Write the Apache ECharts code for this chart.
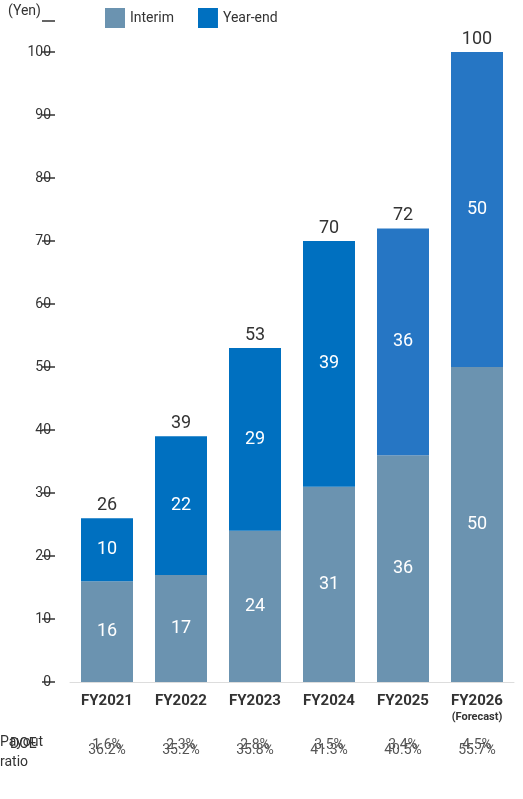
<!DOCTYPE html><html><head><meta charset="utf-8"><script src="https://cdn.jsdelivr.net/npm/echarts@6/dist/echarts.min.js"></script>
<style>html,body{margin:0;padding:0;background:#fff}#c{width:523px;height:799px}</style></head><body><div id="c"></div><script>
const categories=['FY2021','FY2022','FY2023','FY2024','FY2025','FY2026'];
const interim=[16,17,24,31,36,50];
const yearEnd=[10,22,29,39,36,50];
const totals=[26,39,53,70,72,100];
const doe=['1.6%','2.3%','2.8%','3.5%','3.4%','4.5%'];
const payout=['36.2%','35.2%','35.8%','41.3%','40.5%','55.7%'];
const F='Roboto, "Noto Sans", sans-serif';
const chart=echarts.init(document.getElementById('c'));
const yeColors=['#0070c0','#0070c0','#0070c0','#0070c0','#2676c4','#2676c4'];
chart.setOption({
 animation:false,
 textStyle:{fontFamily:F},
 grid:{left:70,right:9,top:20.5,bottom:117},
 legend:{top:3,left:100,itemWidth:20,itemHeight:20,itemGap:24,icon:'rect',textStyle:{fontSize:14,color:'#333',fontFamily:F},data:['Interim','Year-end']},
 xAxis:{type:'category',data:categories,axisLine:{show:true,lineStyle:{color:'#ddd'}},axisTick:{show:false},
  axisLabel:{margin:10,interval:0,formatter:v=>v==='FY2026'?'{b|'+v+'}\n{s|(Forecast)}':'{b|'+v+'}',
   rich:{b:{fontSize:15,fontWeight:'bold',color:'#333',fontFamily:F,lineHeight:18},s:{fontSize:11,fontWeight:'bold',color:'#333',fontFamily:F,lineHeight:14}}}},
 yAxis:{type:'value',min:0,max:105,interval:10,offset:15,splitLine:{show:false},axisLine:{show:false},
  axisTick:{show:true,length:13,lineStyle:{color:'#333',width:1.5}},
  axisLabel:{margin:4,fontSize:14,color:'#333',formatter:v=>v>100?'':v}},
 series:[
  {name:'Interim',type:'bar',stack:'a',barWidth:52,data:interim,itemStyle:{color:'#6b93b0'},
   label:{show:true,position:'inside',color:'#fff',fontSize:18,fontFamily:F}},
  {name:'Year-end',type:'bar',stack:'a',barWidth:52,data:yearEnd.map((v,i)=>({value:v,itemStyle:{color:yeColors[i]}})),itemStyle:{color:'#0070c0'},
   label:{show:true,position:'inside',color:'#fff',fontSize:18,fontFamily:F}},
  {name:'total',type:'bar',stack:'a',barWidth:52,data:totals.map(()=>0),itemStyle:{color:'transparent'},
   label:{show:true,position:'top',distance:4,color:'#333',fontSize:18,fontFamily:F,formatter:p=>totals[p.dataIndex]}}
 ]
});
const g=[{type:'text',left:8,top:4,style:{text:'(Yen)',fontSize:14,fill:'#333',fontFamily:F}},
 {type:'text',left:10,top:737,style:{text:'DOE',fontSize:14,fill:'#333',fontFamily:F}},
 {type:'text',left:0,top:734,style:{text:'Payout\nratio',fontSize:14,fill:'#333',lineHeight:20,fontFamily:F},y:0,position:[0,0]}];
g[2]={type:'text',x:0,y:734,style:{text:'Payout\nratio',fontSize:14,fill:'#333',lineHeight:20,fontFamily:F,y:0}};
g[2].y=732;
categories.forEach((c,i)=>{
 const x=chart.convertToPixel({xAxisIndex:0},c);
 g.push({type:'text',x:x,y:745,style:{text:doe[i],fontSize:14,fill:'#555',align:'center',verticalAlign:'middle',fontFamily:F}});
 g.push({type:'text',x:x,y:751+0,style:{text:'',fontSize:1}});
 g.push({type:'text',x:x,y:750+0,style:{text:payout[i],fontSize:14,fill:'#555',align:'center',verticalAlign:'middle',fontFamily:F}});
});
// payout row y
g.forEach(o=>{if(o.style&&payout.includes(o.style.text))o.y=750;});
chart.setOption({graphic:g});
</script></body></html>
